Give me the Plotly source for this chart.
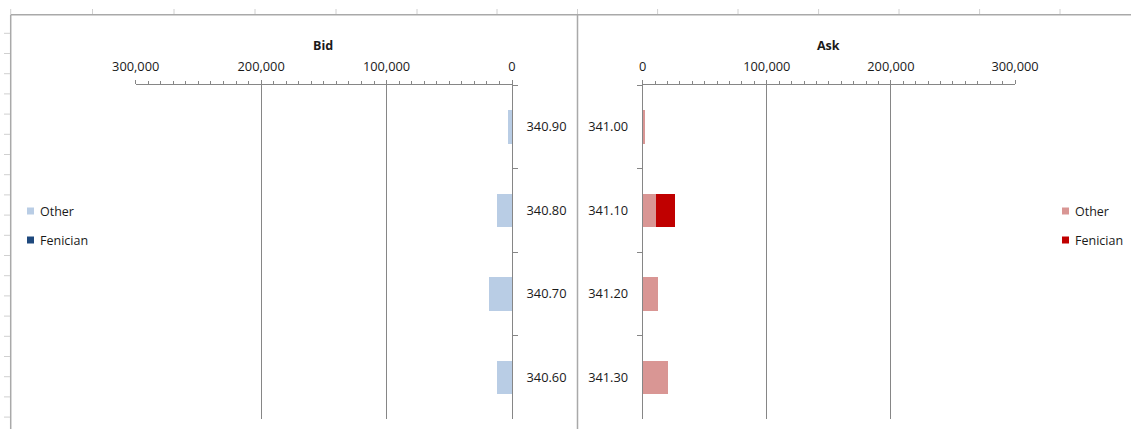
import plotly.graph_objects as go

# ---------------- data ----------------
bid_prices = ["340.90", "340.80", "340.70", "340.60"]
bid_other = [3200, 12000, 18300, 12000]
bid_fenician = [0, 0, 0, 0]

ask_prices = ["341.00", "341.10", "341.20", "341.30"]
ask_other = [1600, 10700, 12300, 20400]
ask_fenician = [0, 15000, 0, 0]

series_names = ["Other", "Fenician"]
axis_ticks = [0, 100000, 200000, 300000]

# ---------------- style ----------------
W, H = 1131, 429
BID_COLORS = ["#b9cde5", "#1f497d"]
ASK_COLORS = ["#d99694", "#c00000"]
GRID = "#868686"
TEXT = "#1a1a1a"
FONT = "Open Sans"


def X(px):
    return px / W


def Y(py):
    return 1 - py / H


fig = go.Figure()

# Bid chart (left)
for name, vals, col in zip(series_names, [bid_other, bid_fenician], BID_COLORS):
    fig.add_trace(go.Bar(y=bid_prices, x=vals, name=name, orientation="h",
                         marker=dict(color=col, line=dict(width=0)),
                         xaxis="x", yaxis="y", showlegend=False))
# Ask chart (right)
for name, vals, col in zip(series_names, [ask_other, ask_fenician], ASK_COLORS):
    fig.add_trace(go.Bar(y=ask_prices, x=vals, name=name, orientation="h",
                         marker=dict(color=col, line=dict(width=0)),
                         xaxis="x2", yaxis="y2", showlegend=False))

ydom = [Y(419), Y(85.3)]

xcommon = dict(side="top", showgrid=True, gridcolor=GRID, gridwidth=1,
               tickvals=axis_ticks, tickformat=",", ticks="outside", ticklen=4,
               tickcolor=GRID, showline=True, linecolor=GRID, linewidth=1,
               zeroline=False, ticklabelstandoff=4, automargin=False,
               tickfont=dict(family=FONT, size=12.8, color=TEXT),
               minor=dict(dtick=10000, ticks="outside", ticklen=3,
                          tickcolor=GRID, showgrid=False),
               fixedrange=True)
ycommon = dict(type="category", autorange="reversed", showgrid=False,
               showline=True, linecolor=GRID, linewidth=1, ticks="outside",
               tickson="boundaries", ticklen=5, tickcolor=GRID,
               ticklabelstandoff=11, zeroline=False, automargin=False,
               tickfont=dict(family=FONT, size=12.8, color=TEXT),
               fixedrange=True)

fig.update_layout(
    template="none",
    width=W, height=H,
    margin=dict(l=0, r=0, t=0, b=0, pad=0, autoexpand=False),
    paper_bgcolor="white", plot_bgcolor="white",
    barmode="stack", bargap=0.6,
    xaxis=dict(domain=[X(135.7), X(512)], range=[300000, 0], anchor="y", **xcommon),
    yaxis=dict(domain=ydom, anchor="x", side="right",
               categoryorder="array", categoryarray=bid_prices, **ycommon),
    xaxis2=dict(domain=[X(642.7), X(1015)], range=[0, 300000], anchor="y2", **xcommon),
    yaxis2=dict(domain=ydom, anchor="x2", side="left",
                categoryorder="array", categoryarray=ask_prices, **ycommon),
    showlegend=False,
)

# titles
for txt, cx in [("Bid", 323), ("Ask", 828)]:
    fig.add_annotation(text="<b>%s</b>" % txt, x=X(cx), y=Y(45), xref="paper", yref="paper",
                       showarrow=False, xanchor="center", yanchor="middle",
                       font=dict(family=FONT, size=12.5, color=TEXT))

# manual legends
for lx, colors in [(27, BID_COLORS), (1062, ASK_COLORS)]:
    for i, (name, col) in enumerate(zip(series_names, colors)):
        cy = 211 + 29 * i
        fig.add_shape(type="rect", xref="paper", yref="paper",
                      x0=X(lx), x1=X(lx + 7), y0=Y(cy + 3.5), y1=Y(cy - 3.5),
                      fillcolor=col, line=dict(width=0))
        fig.add_annotation(text=name, x=X(lx + 11), y=Y(cy), xref="paper", yref="paper",
                           showarrow=False, xanchor="left", yanchor="middle",
                           font=dict(family=FONT, size=12.5, color=TEXT))

# spreadsheet / chart-frame decoration
BORDER = "#a9a9a9"
LIGHT = "#d0d0d0"
fig.add_shape(type="line", xref="paper", yref="paper", x0=X(10.7), x1=1, y0=Y(14.7), y1=Y(14.7),
              line=dict(color=BORDER, width=1.5))
for vx in [10.7, 577.5]:
    fig.add_shape(type="line", xref="paper", yref="paper", x0=X(vx), x1=X(vx), y0=Y(14.7), y1=0,
                  line=dict(color=BORDER, width=1.5))
for cx in [10.7, 92.5, 174, 255, 336, 417, 497, 577.5, 657.6, 738, 818.6, 899, 979.6, 1060]:
    fig.add_shape(type="line", xref="paper", yref="paper", x0=X(cx), x1=X(cx), y0=Y(9), y1=Y(14),
                  line=dict(color=LIGHT, width=1))
for k in range(20):
    ry = 33.3 + 20.2 * k
    fig.add_shape(type="line", xref="paper", yref="paper", x0=X(4), x1=X(10), y0=Y(ry), y1=Y(ry),
                  line=dict(color=LIGHT, width=1))

fig.write_html("out.html", config={"displayModeBar": False},
               post_script="document.body.style.margin='0';document.body.style.overflow='hidden';")
